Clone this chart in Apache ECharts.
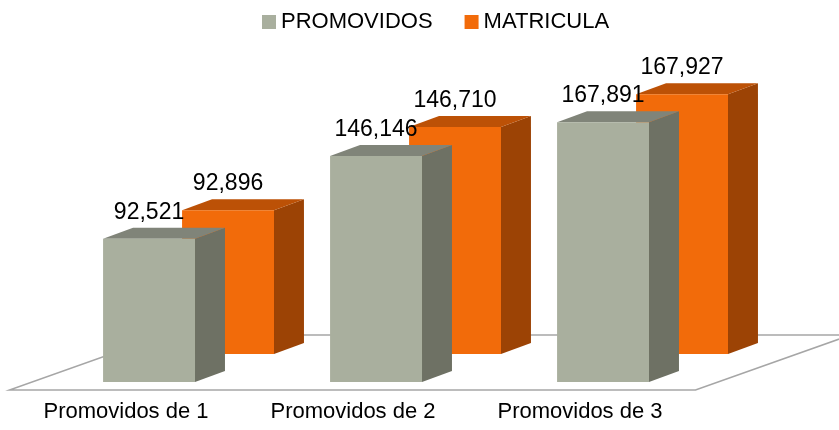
<!DOCTYPE html>
<html>
<head>
<meta charset="utf-8">
<script src="https://cdn.jsdelivr.net/npm/echarts@6/dist/echarts.min.js"></script>
<style>
  html, body { margin: 0; padding: 0; background: #fff; }
  #chart1 { width: 839px; height: 430px; }
</style>
</head>
<body>
<div id="chart1"></div>
<script>
var categories = ['Promovidos de 1', 'Promovidos de 2', 'Promovidos de 3'];
var promovidos = [92521, 146146, 167891];
var matricula = [92896, 146710, 167927];
var seriesNames = ['PROMOVIDOS', 'MATRICULA'];

var chart1 = echarts.init(document.getElementById('chart1'));
var fontName = '"Liberation Sans", Arial, sans-serif';

// caja 3D: frente, lado y tapa
function makeBox(shiftX, shiftY, colors) {
    return function (params, api) {
        var cat = api.value(0), val = api.value(1);
        var base = api.coord([cat, 0]);
        var top = api.coord([cat, val]);
        var band = api.size([1, 0])[0];
        var w = band * 0.405, dx = band * 0.132, dy = 11;
        var x0 = base[0] + band * shiftX;
        var x1 = x0 + w;
        var yb = base[1] + shiftY, yt = top[1] + shiftY;
        return {
            type: 'group',
            children: [{
                type: 'polygon',
                shape: { points: [[x1, yb], [x1 + dx, yb - dy], [x1 + dx, yt - dy], [x1, yt]] },
                style: { fill: colors[1] }
            }, {
                type: 'polygon',
                shape: { points: [[x0, yt], [x1, yt], [x1 + dx, yt - dy], [x0 + dx, yt - dy]] },
                style: { fill: colors[2] }
            }, {
                type: 'rect',
                shape: { x: x0, y: yt, width: w, height: yb - yt },
                style: { fill: colors[0] }
            }, {
                type: 'text',
                style: {
                    x: x0 + w / 2, y: yt - dy - 4,
                    text: val.toLocaleString('en-US'),
                    align: 'center', verticalAlign: 'bottom',
                    font: '23px ' + fontName, fill: '#000'
                }
            }]
        };
    };
}

function renderFloor(params, api) {
    var band = api.size([1, 0])[0];
    var left = api.coord([0, 0])[0] - band / 2 - 3;
    var right = api.coord([categories.length - 1, 0])[0] + band / 2 + 2;
    var y0 = api.coord([0, 0])[1];
    var yf = y0 + 8, yk = y0 - 47, off = 155;
    return {
        type: 'polygon',
        shape: { points: [[left, yf], [right, yf], [right + off, yk], [left + off, yk]] },
        style: { fill: '#fff', stroke: '#a6a6a6', lineWidth: 1.5 }
    };
}

function toData(arr) {
    var d = [];
    for (var i = 0; i < arr.length; i++) {
        d.push([i, arr[i]]);
    }
    return d;
}

var option = {
    animation: false,
    legend: {
        data: seriesNames,
        left: 257, top: 6,
        icon: 'rect', itemWidth: 14, itemHeight: 14, itemGap: 32,
        textStyle: { fontSize: 22, fontFamily: fontName, color: '#000' }
    },
    grid: { left: 12.5, right: 145.5, top: 72.6, bottom: 48 },
    xAxis: {
        type: 'category',
        data: categories,
        axisLine: { show: false },
        axisTick: { show: false },
        axisLabel: { margin: 19, fontSize: 22, fontFamily: fontName, color: '#000' }
    },
    yAxis: {
        type: 'value', min: 0, max: 200000,
        show: false, splitLine: { show: false }
    },
    series: [{
        name: 'floor',
        type: 'custom',
        z: 1,
        renderItem: renderFloor,
        data: [[0, 0]],
        silent: true
    }, {
        name: seriesNames[1],
        type: 'custom',
        z: 2,
        itemStyle: { color: '#f26b0a' },
        renderItem: makeBox(0.247, -28, ['#f26b0a', '#9c4305', '#bc5106']),
        data: toData(matricula)
    }, {
        name: seriesNames[0],
        type: 'custom',
        z: 3,
        itemStyle: { color: '#a9af9e' },
        renderItem: makeBox(-0.101, 0, ['#a9af9e', '#6e7164', '#808479']),
        data: toData(promovidos)
    }]
};
chart1.setOption(option, true);
</script>
</body>
</html>
